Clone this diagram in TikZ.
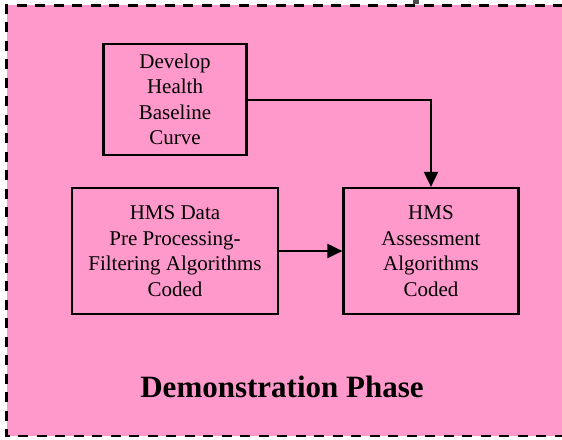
\documentclass[tikz,border=0pt]{standalone}
\usepackage{fontspec}
\setmainfont{Liberation Serif}
\usetikzlibrary{arrows.meta}
\definecolor{phasepink}{RGB}{255,153,204}
\begin{document}
\begin{tikzpicture}[x=1pt,y=-1pt,
  stepbox/.style={draw,line width=2.2pt,fill=phasepink,align=center,inner sep=0pt,
    font=\fontsize{21}{25.5}\selectfont},
  flow/.style={line width=2pt,-{Triangle[length=15pt,width=14pt]}}]
\useasboundingbox (0,0) rectangle (562,439);
\clip (0,0) rectangle (562,439);
\fill[white] (0,0) rectangle (562,439);
% phase panel; its dashed frame runs on past the right edge
\fill[phasepink] (6.5,5.3) rectangle (600,436);
\draw[line width=2.5pt,dash pattern=on 10pt off 8.5pt]
  (600,5.3) -- (6.5,5.3) -- (6.5,436) -- (600,436);
\fill[black!70] (413,-1) rectangle (419,3.5);
% process steps
\node[stepbox,minimum width=143pt,minimum height=111pt] (base) at (175,99.5)
  {Develop\\Health\\Baseline\\Curve};
\node[stepbox,minimum width=206pt,minimum height=126pt] (data) at (175,251)
  {HMS Data\\Pre Processing-\\Filtering Algorithms\\Coded};
\node[stepbox,minimum width=175pt,minimum height=126pt] (assess) at (431,251)
  {HMS\\Assessment\\Algorithms\\Coded};
% connectors
\draw[flow] (base.east) -| (assess.north);
\draw[flow] (data.east) -- (assess.west);
% phase title
\node[anchor=base,inner sep=0pt,font=\fontsize{31}{36}\bfseries\selectfont] (title)
  at (282,397.7) {Demonstration Phase};
\end{tikzpicture}
\end{document}
